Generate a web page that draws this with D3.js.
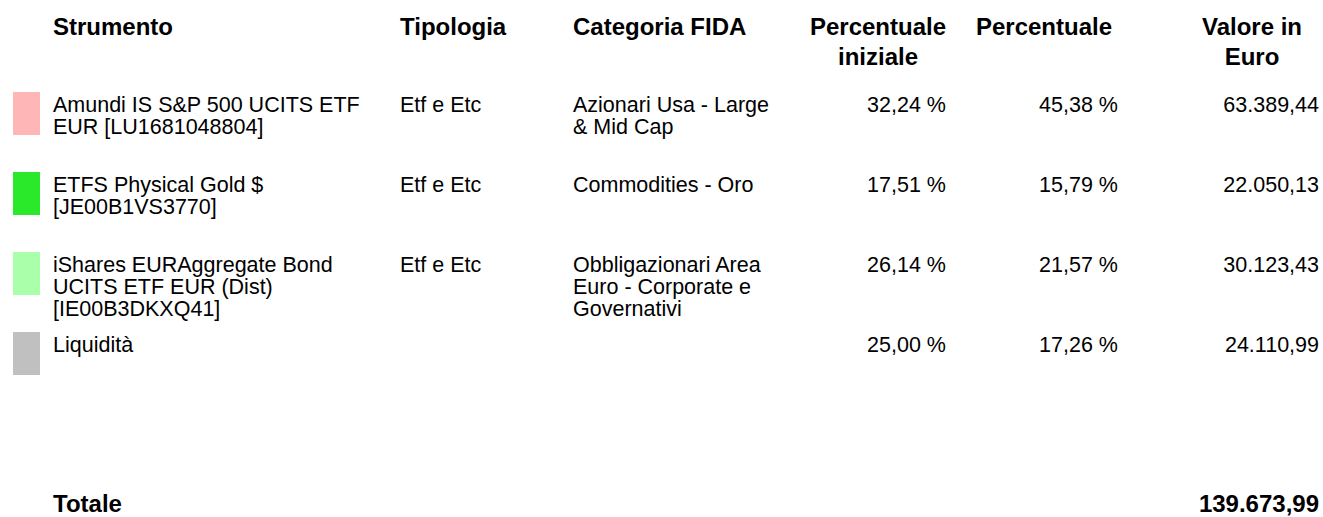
<!DOCTYPE html>
<html>
<head>
<meta charset="utf-8">
<script src="https://cdn.jsdelivr.net/npm/d3@7"></script>
<style>
    html, body { margin: 0; padding: 0; background: #fff; }
    svg { display: block; font-family: "Liberation Sans", Arial, sans-serif; }
    .hdr { font-weight: bold; font-size: 24px; fill: #000; }
    .cell { font-size: 21.5px; fill: #000; }
    .tot { font-weight: bold; font-size: 24px; fill: #000; }
</style>
</head>
<body>
<script>
    // column headers (multi-line with \n)
    var headers = ['Strumento', 'Tipologia', 'Categoria FIDA', 'Percentuale\niniziale', 'Percentuale', 'Valore in\nEuro'];

    // rows
    var strumenti = [
        'Amundi IS S&P 500 UCITS ETF\nEUR [LU1681048804]',
        'ETFS Physical Gold $\n[JE00B1VS3770]',
        'iShares EURAggregate Bond\nUCITS ETF EUR (Dist)\n[IE00B3DKXQ41]',
        'Liquidità'
    ];
    var tipologie = ['Etf e Etc', 'Etf e Etc', 'Etf e Etc', ''];
    var categorie = [
        'Azionari Usa - Large\n& Mid Cap',
        'Commodities - Oro',
        'Obbligazionari Area\nEuro - Corporate e\nGovernativi',
        ''
    ];
    var percIniziale = [32.24, 17.51, 26.14, 25.00];
    var percAttuale = [45.38, 15.79, 21.57, 17.26];
    var valoriEuro = [63389.44, 22050.13, 30123.43, 24110.99];
    var colori = ['#ffb6b6', '#2ae82a', '#aaffaa', '#c0c0c0'];
    var totale = 139673.99;

    var width = 1323, height = 517;

    var it = d3.formatLocale({ decimal: ',', thousands: '.', grouping: [3], currency: ['', ' €'] });
    var fmtPct = function (v) { return it.format(',.2f')(v) + ' %'; };
    var fmtEur = it.format(',.2f');

    var svg = d3.select('body').append('svg')
        .attr('width', width)
        .attr('height', height);

    // row positions
    var y = d3.scaleBand()
        .domain(d3.range(strumenti.length))
        .range([92, 92 + 80 * strumenti.length])
        .paddingInner(0);

    // column anchors: x and alignment
    var cols = [
        { x: 53, anchor: 'start', hx: 53, hanchor: 'start' },
        { x: 400, anchor: 'start', hx: 400, hanchor: 'start' },
        { x: 573, anchor: 'start', hx: 573, hanchor: 'start' },
        { x: 946, anchor: 'end', hx: 878, hanchor: 'middle' },
        { x: 1118, anchor: 'end', hx: 1044, hanchor: 'middle' },
        { x: 1319, anchor: 'end', hx: 1252, hanchor: 'middle' }
    ];

    function multiline(sel, str, lh) {
        var lines = str.split('\n');
        sel.selectAll('tspan')
            .data(lines)
            .enter()
            .append('tspan')
            .attr('x', sel.attr('x'))
            .attr('dy', function (d, i) { return i === 0 ? 0 : lh; })
            .text(function (d) { return d; });
    }

    // header
    var hg = svg.append('g');
    headers.forEach(function (h, i) {
        var t = hg.append('text')
            .attr('class', 'hdr')
            .attr('x', cols[i].hx)
            .attr('y', 35)
            .attr('text-anchor', cols[i].hanchor);
        multiline(t, h, 30);
    });

    // swatches
    svg.append('g').selectAll('rect')
        .data(colori)
        .enter()
        .append('rect')
        .attr('x', 13)
        .attr('y', function (d, i) { return y(i); })
        .attr('width', 27)
        .attr('height', 43)
        .attr('fill', function (d) { return d; });

    // cells
    var rows = strumenti.map(function (s, i) {
        return [s, tipologie[i], categorie[i], fmtPct(percIniziale[i]), fmtPct(percAttuale[i]), fmtEur(valoriEuro[i])];
    });

    var rg = svg.append('g');
    rows.forEach(function (r, i) {
        r.forEach(function (c, j) {
            if (!c) return;
            var t = rg.append('text')
                .attr('class', 'cell')
                .attr('x', cols[j].x)
                .attr('y', y(i) + 20)
                .attr('text-anchor', cols[j].anchor);
            multiline(t, c, 22);
        });
    });

    // total
    svg.append('text')
        .attr('class', 'tot')
        .attr('x', 53)
        .attr('y', 512)
        .text('Totale');
    svg.append('text')
        .attr('class', 'tot')
        .attr('x', 1319)
        .attr('y', 512)
        .attr('text-anchor', 'end')
        .text(fmtEur(totale));
</script>
</body>
</html>
